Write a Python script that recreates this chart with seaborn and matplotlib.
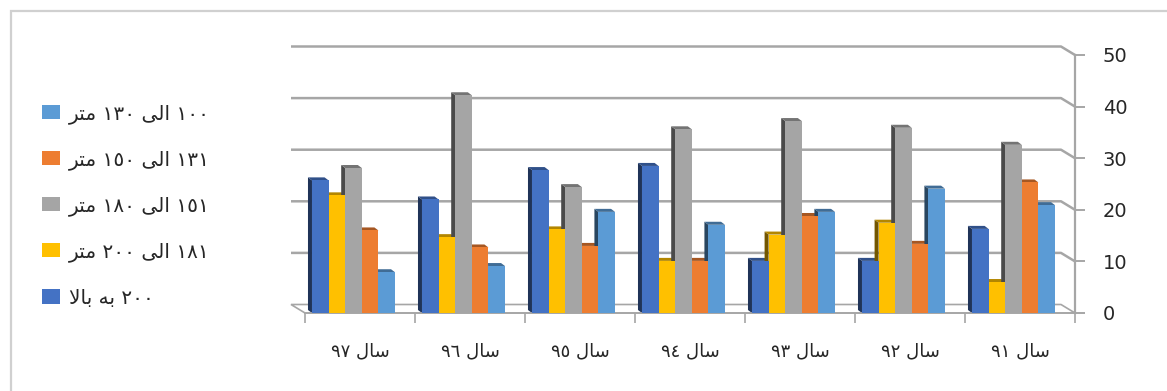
import numpy as np
import pandas as pd
import matplotlib
matplotlib.use("Agg")
import matplotlib.pyplot as plt
import matplotlib.colors as mcolors
from matplotlib.patches import Polygon, Rectangle
import seaborn as sns

# ---------------- data ----------------
years = ['سال ٩٧', 'سال ٩٦', 'سال ٩٥', 'سال ٩٤', 'سال ٩٣', 'سال ٩٢', 'سال ٩١']

name_200_up = '٢٠٠ به بالا'
name_181_200 = '١٨١ الی ٢٠٠ متر'
name_151_180 = '١٥١ الی ١٨٠ متر'
name_131_150 = '١٣١ الی ١٥٠ متر'
name_100_130 = '١٠٠ الی ١٣٠ متر'

vals_200_up = [25.7, 22.0, 27.7, 28.5, 10.1, 10.1, 16.3]
vals_181_200 = [22.8, 14.7, 16.2, 10.1, 15.2, 17.5, 6.0]
vals_151_180 = [28.1, 42.2, 24.4, 35.6, 37.2, 35.9, 32.6]
vals_131_150 = [16.0, 12.7, 13.0, 10.1, 18.8, 13.4, 25.3]
vals_100_130 = [7.9, 9.1, 19.6, 17.1, 19.6, 24.1, 20.9]

y_ticks = [0, 10, 20, 30, 40, 50]

hue_order = [name_200_up, name_181_200, name_151_180, name_131_150, name_100_130]
series_vals = [vals_200_up, vals_181_200, vals_151_180, vals_131_150, vals_100_130]
colors = ['#4472C4', '#FFC000', '#A5A5A5', '#ED7D31', '#5B9BD5']

# ------------- simple Arabic/Persian shaping for display -------------
FORMS = {
    '\u0627': ('\uFE8D', '\uFE8E', None, None),
    '\u0628': ('\uFE8F', '\uFE90', '\uFE91', '\uFE92'),
    '\u062A': ('\uFE95', '\uFE96', '\uFE97', '\uFE98'),
    '\u0631': ('\uFEAD', '\uFEAE', None, None),
    '\u0633': ('\uFEB1', '\uFEB2', '\uFEB3', '\uFEB4'),
    '\u0644': ('\uFEDD', '\uFEDE', '\uFEDF', '\uFEE0'),
    '\u0645': ('\uFEE1', '\uFEE2', '\uFEE3', '\uFEE4'),
    '\u0647': ('\uFEE9', '\uFEEA', '\uFEEB', '\uFEEC'),
    '\u06CC': ('\uFBFC', '\uFBFD', '\uFBFE', '\uFBFF'),
}
LAM_ALEF = ('\uFEFB', '\uFEFC')


def shape_word(word):
    chars = []
    i = 0
    while i < len(word):
        if word[i] == '\u0644' and i + 1 < len(word) and word[i + 1] == '\u0627':
            chars.append('LA')
            i += 2
        else:
            chars.append(word[i])
            i += 1

    def dual(c):
        return c in FORMS and FORMS[c][2] is not None

    def joins(c):
        return c == 'LA' or c in FORMS

    out = []
    for k, c in enumerate(chars):
        prev = chars[k - 1] if k > 0 else None
        nxt = chars[k + 1] if k + 1 < len(chars) else None
        jp = prev is not None and dual(prev)
        jn = dual(c) and nxt is not None and joins(nxt)
        if c == 'LA':
            out.append(LAM_ALEF[1] if jp else LAM_ALEF[0])
            continue
        if c not in FORMS:
            out.append(c)
            continue
        iso, fin, ini, med = FORMS[c]
        if jp and jn:
            out.append(med)
        elif jp:
            out.append(fin)
        elif jn:
            out.append(ini)
        else:
            out.append(iso)
    return ''.join(reversed(out))


def rtl(text):
    words = text.split(' ')
    vis = [w if all(ch.isdigit() for ch in w) else shape_word(w) for w in words]
    return ' '.join(reversed(vis))


def shade(c, f):
    return tuple(np.clip(np.array(mcolors.to_rgb(c)) * f, 0, 1))


# ---------------- figure ----------------
sns.set_theme(style='white')
plt.rcParams['font.family'] = ['DejaVu Sans']

W, H = 1167, 391
fig = plt.figure(figsize=(W / 100, H / 100), dpi=100)
ax_left, ax_right, ax_bottom, ax_top = 305, 1075, 313, 55
ax = fig.add_axes([ax_left / W, (H - ax_bottom) / H,
                   (ax_right - ax_left) / W, (ax_bottom - ax_top) / H])

rows = []
for name, vals in zip(hue_order, series_vals):
    for yr, v in zip(years, vals):
        rows.append({'year': yr, 'series': name, 'value': v})
df = pd.DataFrame(rows)

sns.barplot(data=df, x='year', y='value', hue='series', order=years,
            hue_order=hue_order, palette=colors, width=0.755, gap=0,
            saturation=1, linewidth=0, ax=ax, zorder=3)

ax.set_xlim(-0.5, 6.5)
ax.set_ylim(0, 50)
ax.set_xlabel('')
ax.set_ylabel('')

handles, _ = ax.get_legend_handles_labels()
if ax.get_legend() is not None:
    ax.get_legend().remove()

pxx = (ax_right - ax_left) / 7.0
pxy = (ax_bottom - ax_top) / 50.0

grid_col = '#A6A6A6'

# shift bars slightly left (3-D perspective) and add side/top faces
shift = 6.5 / pxx
bdx, bdy = 4 / pxx, 3 / pxy
for ci, cont in enumerate(ax.containers):
    col = colors[ci]
    for bar in cont:
        bar.set_x(bar.get_x() - shift)
        x, w, h = bar.get_x(), bar.get_width(), bar.get_height()
        side = Polygon([(x, 0), (x, h), (x - bdx, h + bdy), (x - bdx, bdy)],
                       closed=True, facecolor=shade(col, 0.45), edgecolor='none',
                       zorder=2.5)
        top = Polygon([(x, h), (x + w, h), (x + w - bdx, h + bdy), (x - bdx, h + bdy)],
                      closed=True, facecolor=shade(col, 0.7), edgecolor='none',
                      zorder=2.5)
        ax.add_patch(side)
        ax.add_patch(top)

# back wall gridlines with perspective
fdx, fdy = 14 / pxx, 8.5 / pxy
x0, x1 = -0.5, 6.5
for v in y_ticks[1:]:
    ax.plot([x0 - fdx, x1 - fdx, x1], [v + fdy, v + fdy, v], color=grid_col,
            lw=1.8, clip_on=False, zorder=1, solid_capstyle='butt')

# floor
floor = Polygon([(x0, 0), (x1, 0), (x1 - fdx, fdy), (x0 - fdx, fdy)], closed=True,
                facecolor='white', edgecolor=grid_col, lw=1.2, clip_on=False, zorder=1.5)
ax.add_patch(floor)

# spines
for s in ['left', 'top']:
    ax.spines[s].set_visible(False)
ax.spines['right'].set_color(grid_col)
ax.spines['right'].set_linewidth(1.6)
ax.spines['bottom'].set_color(grid_col)
ax.spines['bottom'].set_linewidth(1.2)

# y axis on right
ax.set_yticks(y_ticks)
ax.set_yticklabels([str(t) for t in y_ticks])
ax.tick_params(axis='y', which='major', left=False, right=True, labelleft=False,
               labelright=True, length=7, width=1.4, color=grid_col, pad=13,
               labelsize=14, labelcolor='#262626')

# x axis labels and separators
ax.set_xticks(range(len(years)))
ax.set_xticklabels([rtl(y) for y in years])
ax.set_xticks(np.arange(-0.5, len(years), 1.0), minor=True)
ax.tick_params(axis='x', which='major', bottom=False, length=0, pad=21.5,
               labelsize=13, labelcolor='#262626')
ax.tick_params(axis='x', which='minor', bottom=True, length=7, width=1.2,
               color=grid_col)

# legend (reverse order, like the reference)
fig.legend(handles[::-1], [rtl(n) for n in hue_order[::-1]], loc='upper left',
           bbox_to_anchor=(42 / W, 1 - 104 / H), frameon=False, fontsize=14.5,
           labelspacing=1.31, handlelength=0.9, handleheight=0.7,
           handletextpad=0.45, borderpad=0, borderaxespad=0,
           labelcolor='#262626')

# outer chart border (only top and left edges visible)
fig.add_artist(Rectangle((11 / W, -0.2), 1.5, 1.2 - 11 / H, fill=False,
                         edgecolor='#D0D0D0', lw=1.6, transform=fig.transFigure))

fig.savefig('out.png', dpi=100)
